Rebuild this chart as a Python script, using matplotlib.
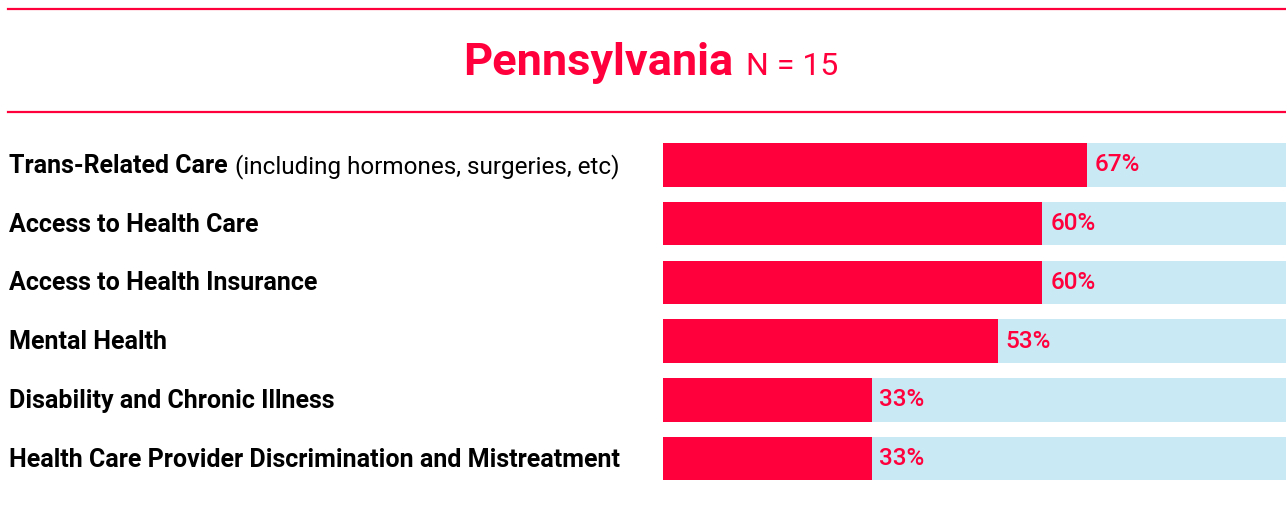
import matplotlib as mpl
mpl.use('Agg')
import matplotlib.pyplot as plt
from matplotlib.lines import Line2D

# data
state = "Pennsylvania"
n_label = "N = 15"
categories = ["Trans-Related Care",
              "Access to Health Care",
              "Access to Health Insurance",
              "Mental Health",
              "Disability and Chronic Illness",
              "Health Care Provider Discrimination and Mistreatment"]
category_notes = ["(including hormones, surgeries, etc)", "", "", "", "", ""]
values = [67, 60, 60, 53, 33, 33]

RED = '#FF003C'
BLUE = '#C9E9F4'
W, H = 1286, 508

plt.rcParams['font.family'] = ['Roboto', 'DejaVu Sans']

fig = plt.figure(figsize=(W / 100, H / 100), dpi=100)
r = fig.canvas.get_renderer()

# pixel helpers (from top-left)
def fx(px):
    return px / W

def fy(py):
    return 1 - py / H

# rule lines
for yl in (9, 112):
    fig.add_artist(Line2D([fx(8), 1.0], [fy(yl), fy(yl)], color=RED, lw=1.6,
                          transform=fig.transFigure))

# bars
ax = fig.add_axes([fx(663), fy(488), 1 - fx(663), (488 - 135.6) / H])
pos = list(range(len(categories)))
ax.barh(pos, [1.0] * len(pos), height=0.74, color=BLUE)
ax.barh(pos, [v / 100 for v in values], height=0.74, color=RED)
for p, v in zip(pos, values):
    ax.annotate(f"{v}%", xy=(v / 100, p), xytext=(5.5, 0), textcoords='offset points',
                va='center', ha='left', color=RED, fontsize=17.5, fontweight='medium')
ax.set_xlim(0, 0.985)
ax.set_ylim(len(pos) - 0.5, -0.5)
ax.set_axis_off()

# category labels (bold name + optional regular note)
for p, (cat, note) in enumerate(zip(categories, category_notes)):
    ydata = ax.transData.transform((0, p))[1]
    yfig = fig.transFigure.inverted().transform((0, ydata))[1] - 8 / H
    t = fig.text(fx(9), yfig, cat, fontsize=18, fontweight='bold',
                 va='baseline', ha='left', color='black')
    if note:
        b = t.get_window_extent(r)
        fig.text((b.x1 + 7) / W, yfig, note, fontsize=17.5, color='black',
                 va='baseline', ha='left')

# title, centred as one piece
t1 = fig.text(0.5, fy(75), state, fontsize=32.5, fontweight='bold', color=RED,
              ha='left', va='baseline')
t2 = fig.text(0.5, fy(75), n_label, fontsize=23, color=RED,
              ha='left', va='baseline')
w1 = t1.get_window_extent(r).width
w2 = t2.get_window_extent(r).width
gap = 13
x0 = 651 - (w1 + gap + w2) / 2
t1.set_x(fx(x0))
t2.set_x(fx(x0 + w1 + gap))

fig.savefig("out.png", dpi=100)
